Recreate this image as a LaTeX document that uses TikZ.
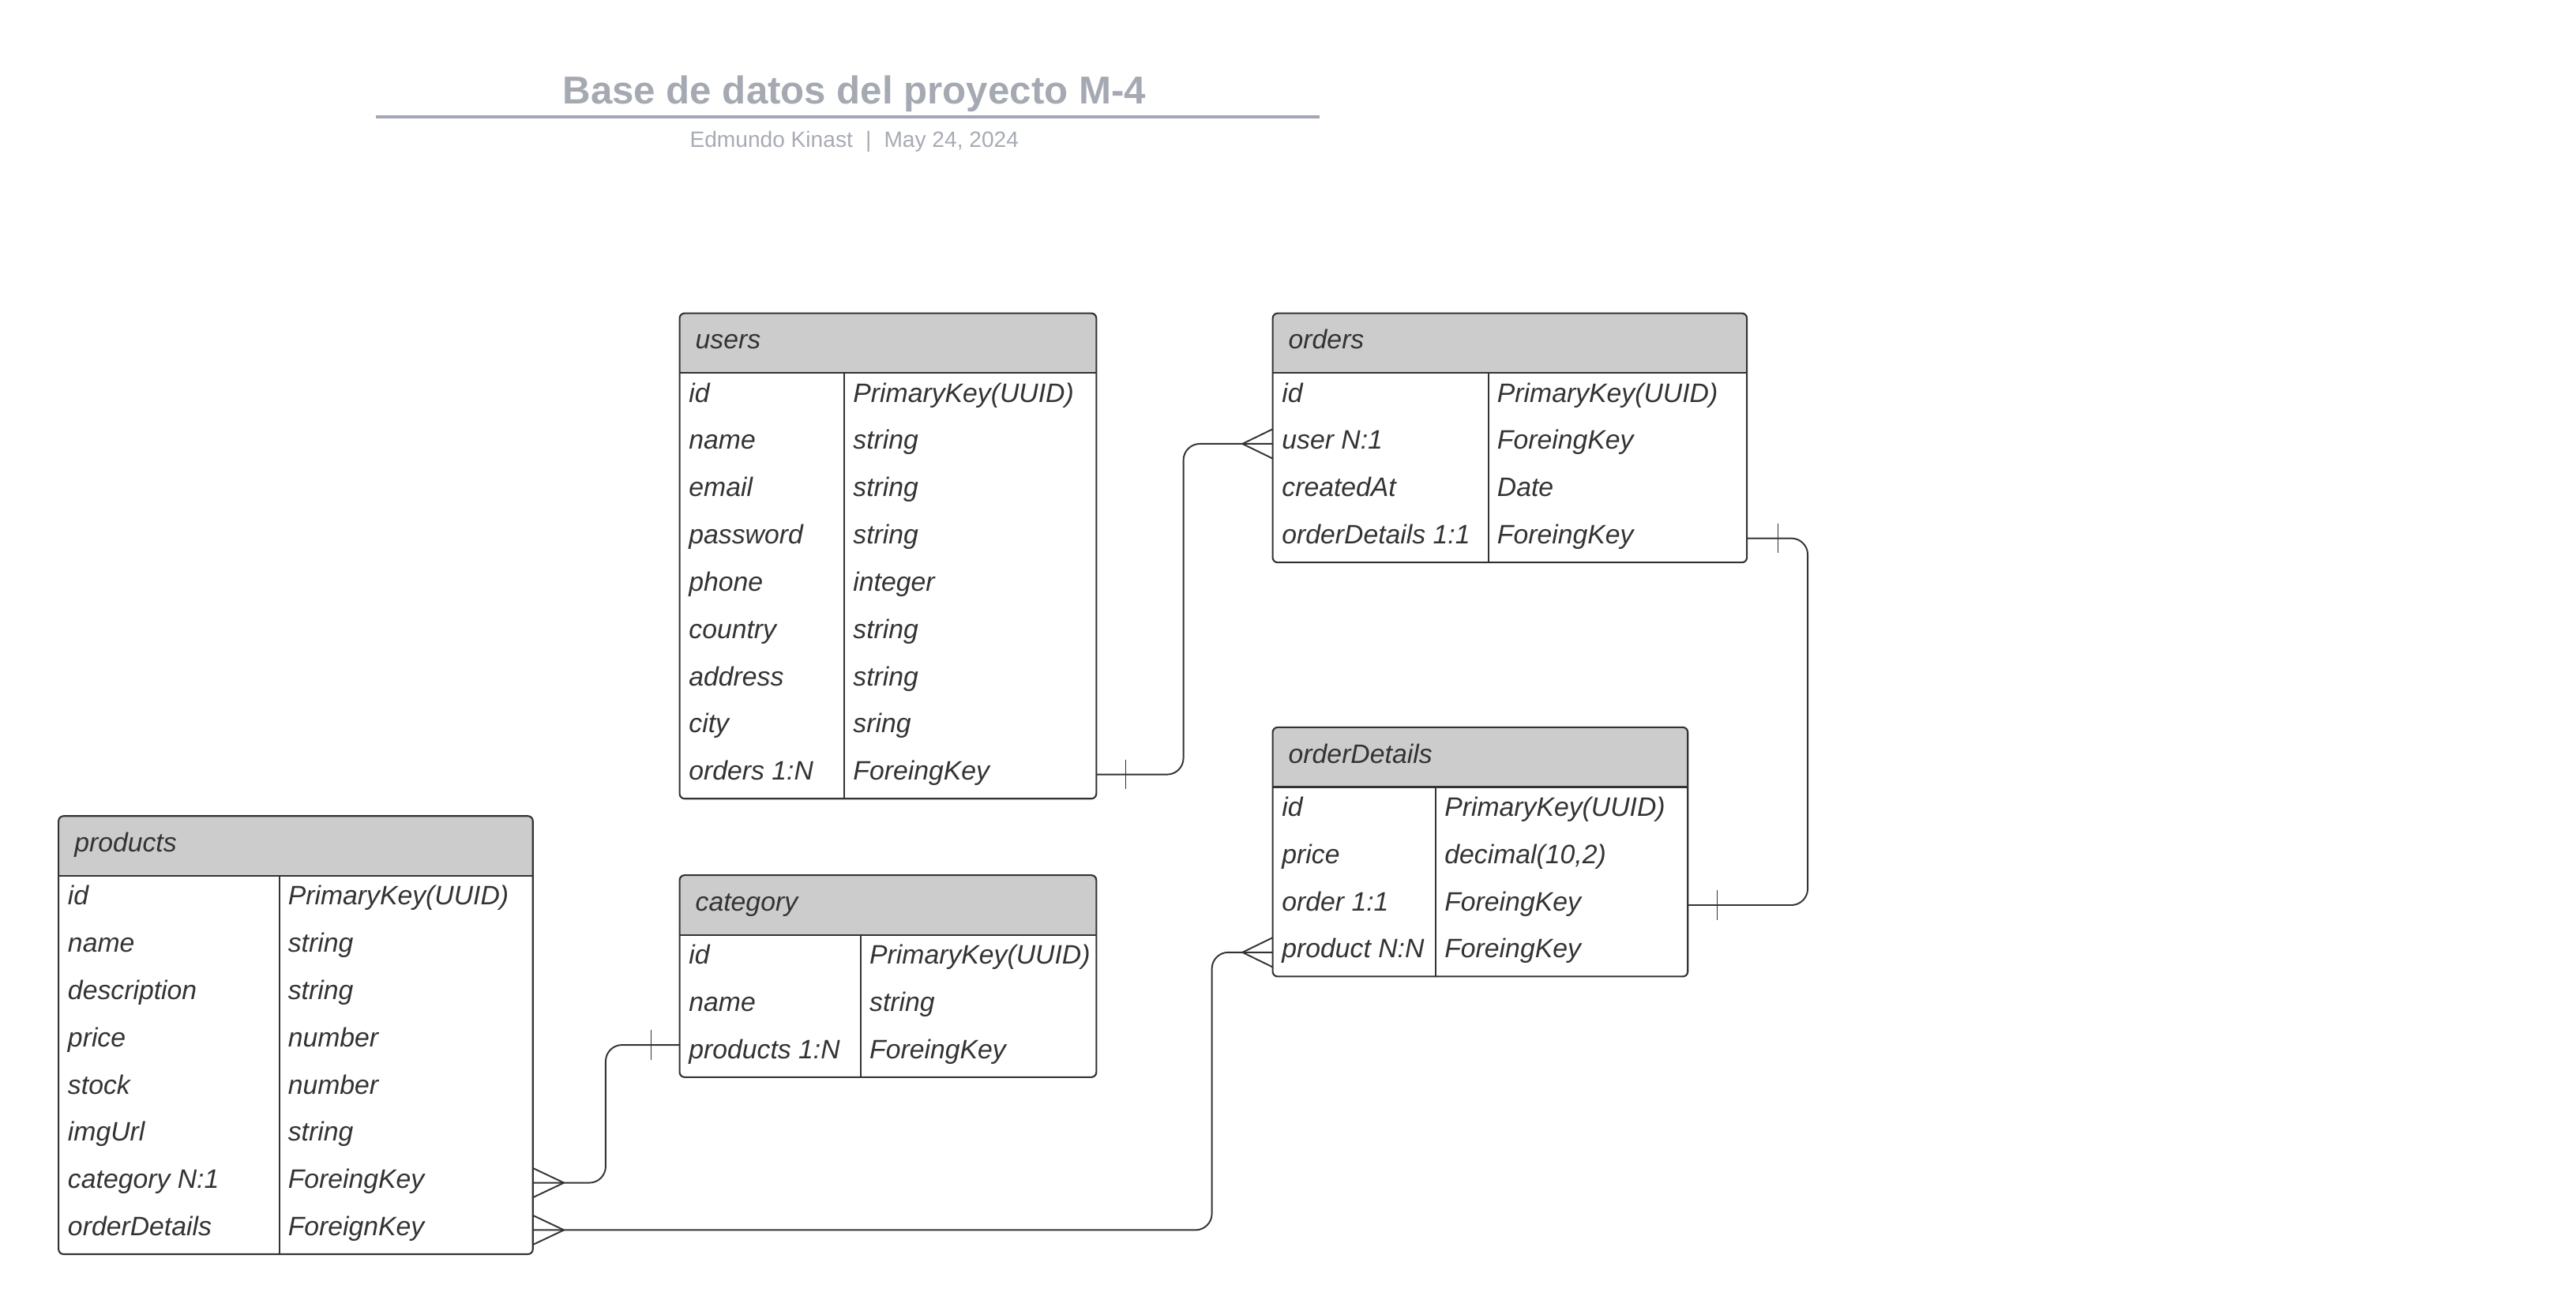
\documentclass[tikz,border=0pt]{standalone}
\usepackage{fontspec}
\setmainfont{Liberation Sans}
\usetikzlibrary{fit}
\definecolor{txt}{HTML}{333333}
\definecolor{hdr}{HTML}{CCCCCC}
\definecolor{ttl}{HTML}{A5A9B2}
\definecolor{ttlline}{HTML}{A3A6B6}
\definecolor{sub}{HTML}{A7ABB3}
\tikzset{
  celltxt/.style={font=\fontsize{9.6}{11}\selectfont\itshape, text=txt, inner sep=0pt, text height=4pt, text depth=0pt},
  tborder/.style={draw=txt, line width=0.6pt},
  conn/.style={draw=txt, line width=0.55pt, rounded corners=5.9pt},
  crowline/.style={draw=txt, line width=0.55pt},
  tickline/.style={draw=txt, line width=0.4pt},
}
\newcommand\erdtable[8]{%
  \pgfmathsetmacro\erdbot{#3+36+#6*28.75}%
  \node[fit={(#2,#3)(#4,\erdbot)}, inner sep=0pt] (#1) {};
  \begin{scope}
    \clip[rounded corners=1.8pt] (#1.north west) rectangle (#1.south east);
    \fill[hdr] (#2,#3) rectangle (#4,#3+36);
  \end{scope}
  \node[celltxt, anchor=west] (#1-title) at (#2+9,#3+18) {#7};
  \foreach \f/\t [count=\i] in {#8} {
    \pgfmathsetmacro\ya{#3+36+(\i-1)*28.75}
    \pgfmathsetmacro\yb{\ya+28.75}
    \pgfmathsetmacro\yc{\ya+14.375}
    \node[fit={(#2,\ya)(#4,\yb)}, inner sep=0pt] (#1-\i) {};
    \node[celltxt, anchor=west] (#1-\i-f) at (#2+5,\yc) {\f};
    \node[celltxt, anchor=west] (#1-\i-t) at (#5+5,\yc) {\t};
  }
  \draw[tborder] (#2,#3+36) -- (#4,#3+36);
  \draw[tborder] (#5,#3+36) -- (#5,\erdbot);
  \draw[tborder, rounded corners=1.8pt] (#1.north west) rectangle (#1.south east);
}
% crow's foot: #1 anchor on table edge, #2 signed offset of apex
\newcommand\crowfoot[2]{%
  \draw[crowline] ([xshift=#2]#1) -- ([yshift=5.3pt]#1) ([xshift=#2]#1) -- ([yshift=-5.3pt]#1);
}
\newcommand\onetick[2]{%
  \draw[tickline] ([xshift=#2,yshift=5.3pt]#1) -- ([xshift=#2,yshift=-5.3pt]#1);
}
\begin{document}
\begin{tikzpicture}[x=0.020804cm, y=-0.020804cm]
\useasboundingbox (0,0) rectangle (1568,800);
\fill[white] (0,0) rectangle (1568,800);

% title block
\node[font=\fontsize{14}{16}\selectfont\bfseries, text=ttl, inner sep=0pt, text height=10pt, text depth=0pt] (title) at (520,55) {Base de datos del proyecto M-4};
\draw[ttlline, line width=1.2pt] (229,71) -- (803,71);
\node[font=\fontsize{8}{10}\selectfont, text=sub, inner sep=0pt, text height=5.7pt, text depth=0pt] (subtitle) at (520,85) {Edmundo Kinast\hspace{4.6pt}|\hspace{4.6pt}May 24, 2024};

% tables
\erdtable{users}{414}{191}{667}{514}{9}{users}{id/PrimaryKey(UUID), name/string, email/string, password/string, phone/integer, country/string, address/string, city/sring, orders 1:N/ForeingKey}
\erdtable{orders}{775}{191}{1063}{906}{4}{orders}{id/PrimaryKey(UUID), user N:1/ForeingKey, createdAt/Date, orderDetails 1:1/ForeingKey}
\erdtable{orderDetails}{775}{443}{1027}{874}{4}{orderDetails}{id/PrimaryKey(UUID), price/{decimal(10,2)}, order 1:1/ForeingKey, product N:N/ForeingKey}
\erdtable{products}{36}{497}{324}{170}{8}{products}{id/PrimaryKey(UUID), name/string, description/string, price/number, stock/number, imgUrl/string, category N:1/ForeingKey, orderDetails/ForeignKey}
\erdtable{category}{414}{533}{667}{524}{3}{category}{id/PrimaryKey(UUID), name/string, products 1:N/ForeingKey}

\coordinate (catP) at ([yshift=2.9pt]category-3.west);

% users 1:N orders
\draw[conn] (users-9.east) -- ++(53,0) |- (orders-2.west);
\onetick{users-9.east}{10.6pt}
\crowfoot{orders-2.west}{-10.9pt}

% orders 1:1 orderDetails
\draw[conn] (orders-4.east) -- ++(37,0) |- (orderDetails-3.east);
\onetick{orders-4.east}{11.2pt}
\onetick{orderDetails-3.east}{10.6pt}

% category 1:N products
\draw[conn] (catP) -- ++(-45,0) |- (products-7.east);
\onetick{catP}{-10.3pt}
\crowfoot{products-7.east}{11.2pt}

% orderDetails N:N products
\draw[conn] (orderDetails-4.west) -- ++(-37,0) |- (products-8.east);
\crowfoot{orderDetails-4.west}{-10.9pt}
\crowfoot{products-8.east}{11.2pt}
\end{tikzpicture}
\end{document}
